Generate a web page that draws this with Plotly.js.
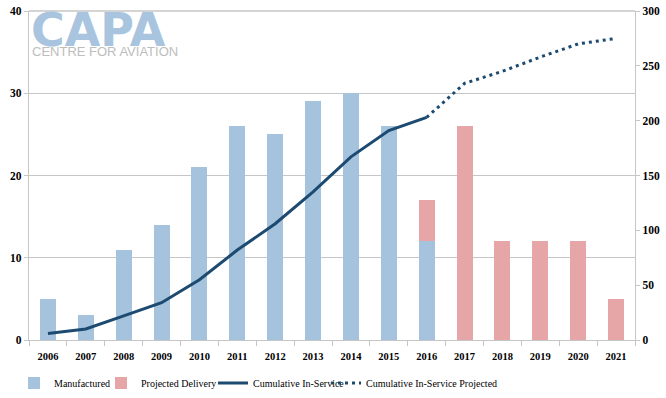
<!DOCTYPE html>
<html>
<head>
<meta charset="utf-8">
<script src="https://cdn.plot.ly/plotly-3.0.1.min.js"></script>
<style>html,body{margin:0;padding:0;background:#fff;}#chart{width:666px;height:398px;}</style>
</head>
<body>
<div id="chart"></div>
<script>
const years = ['2006','2007','2008','2009','2010','2011','2012','2013','2014','2015','2016','2017','2018','2019','2020','2021'];
const manufactured = [5,3,11,14,21,26,25,29,30,26,12,null,null,null,null,null];
const projectedDelivery = [null,null,null,null,null,null,null,null,null,null,5,26,12,12,12,5];
const cumulativeYears = ['2006','2007','2008','2009','2010','2011','2012','2013','2014','2015','2016'];
const cumulativeInService = [6,10,22,34,55,82,106,135,167,191,203];
const projectedYears = ['2016','2017','2018','2019','2020','2021'];
const cumulativeProjected = [203,234,245,258,270,275];

const serif = 'Liberation Serif, Times New Roman, serif';
const xTickFont = {family:serif, size:10.5, color:'#000', weight:'bold'};
const yTickFont = {family:serif, size:11.5, color:'#000', weight:'bold'};
const gridColor = '#C6C6C6';
const legendFont = {family:serif, size:10, color:'#000'};

function leg(xpx){
  return {orientation:'h', xref:'container', yref:'container', x:xpx/666, xanchor:'left',
    y:1-383/398, yanchor:'middle', font:legendFont, itemwidth:30, bgcolor:'rgba(0,0,0,0)'};
}

const traces = [
  {type:'bar', name:'Manufactured', x:years, y:manufactured, marker:{color:'#A6C3DE'}, legend:'legend'},
  {type:'bar', name:'Projected Delivery', x:years, y:projectedDelivery, marker:{color:'#E6A6A7'}, legend:'legend2'},
  {type:'scatter', mode:'lines', name:'Cumulative In-Service', x:cumulativeYears, y:cumulativeInService, yaxis:'y2', line:{color:'#1C4A70', width:3}, legend:'legend3'},
  {type:'scatter', mode:'lines', name:'Cumulative In-Service Projected', x:projectedYears, y:cumulativeProjected, yaxis:'y2', line:{color:'#1C4A70', width:3, dash:'3px,4px'}, legend:'legend4'}
];

const layout = {
  width:666, height:398,
  margin:{l:29, r:31, t:11, b:58},
  paper_bgcolor:'#fff', plot_bgcolor:'#fff',
  barmode:'stack', bargap:0.58,
  showlegend:true,
  legend:leg(14), legend2:leg(101), legend3:leg(213), legend4:leg(326),
  xaxis:{type:'category', categoryorder:'array', categoryarray:years,
    showline:true, linecolor:gridColor, linewidth:1.3,
    ticks:'outside', tickson:'boundaries', ticklen:5, tickcolor:gridColor,
    ticklabelstandoff:6, tickfont:xTickFont, showgrid:false, zeroline:false},
  yaxis:{range:[0,40], dtick:10, showline:true, linecolor:gridColor, linewidth:1.3,
    ticks:'outside', ticklen:4, tickcolor:gridColor, tickfont:yTickFont,
    showgrid:true, gridcolor:gridColor, gridwidth:1.3, zeroline:false},
  yaxis2:{range:[0,300], dtick:50, overlaying:'y', side:'right', showline:true,
    linecolor:gridColor, linewidth:1.3, ticks:'outside', ticklen:4, tickcolor:gridColor,
    tickfont:yTickFont, showgrid:false, zeroline:false},
  shapes:[{type:'line', xref:'paper', yref:'paper', x0:0, x1:1, y0:1, y1:1, line:{color:gridColor, width:1.3}}],
  annotations:[
    {xref:'paper', yref:'paper', x:0.0, y:1-(30-11)/329, xanchor:'left', yanchor:'middle', showarrow:false,
     text:'<b>CAPA</b>', font:{family:'DejaVu Sans, Arial, sans-serif', size:46, color:'#A8C4DE'}},
    {xref:'paper', yref:'paper', x:0.002, y:1-(51.5-11)/329, xanchor:'left', yanchor:'middle', showarrow:false,
     text:'CENTRE FOR AVIATION', font:{family:'Liberation Sans, Arial, sans-serif', size:13, color:'#BDBDBD'}}
  ]
};

Plotly.newPlot('chart', traces, layout, {displayModeBar:false, staticPlot:true});
</script>
</body>
</html>
